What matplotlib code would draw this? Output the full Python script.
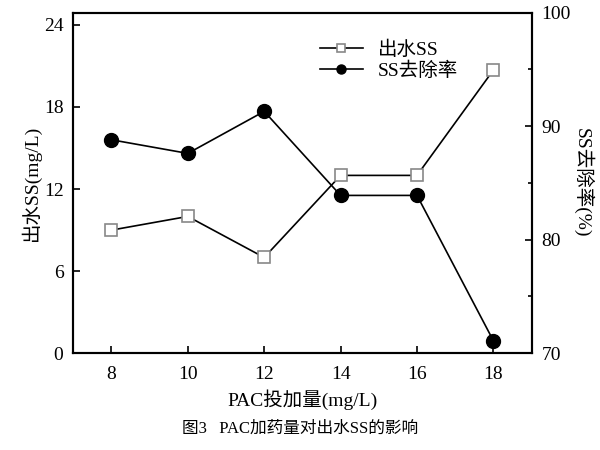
import matplotlib
matplotlib.use('Agg')
import matplotlib.pyplot as plt

plt.rcParams['font.family'] = ['Liberation Serif', 'Noto Sans CJK SC']

# 数据
dose = [8, 10, 12, 14, 16, 18]
ss_out = [9, 10, 7, 13, 13, 20.7]
ss_removal = [88.8, 87.6, 91.3, 83.9, 83.9, 71.1]

fig = plt.figure(figsize=(6, 4.5), dpi=100)
ax = fig.add_axes([0.122, 0.215, 0.764, 0.757])
ax2 = ax.twinx()

l1, = ax.plot(dose, ss_out, color='black', lw=1.2, marker='s', ms=9,
              mfc='white', mec='#888888', mew=1.2, label='出水SS')
l2, = ax2.plot(dose, ss_removal, color='black', lw=1.2, marker='o', ms=10,
               mfc='black', mec='black', label='SS去除率')

ax.set_xlim(7, 19)
ax.set_ylim(0, 24.9)
ax2.set_ylim(70, 100)
ax.set_xticks(dose)
ax.set_yticks([0, 6, 12, 18, 24])
ax2.set_yticks([70, 80, 90, 100])
ax2.set_yticks([75, 85, 95], minor=True)

for a in (ax, ax2):
    a.tick_params(direction='in', labelsize=14, length=5, width=1.2, pad=7)
    a.tick_params(which='minor', direction='in', length=3, width=1.2)
    for s in a.spines.values():
        s.set_linewidth(1.5)
ax.tick_params(axis='x', pad=9)

ax.set_ylabel('出水SS(mg/L)', fontsize=14, labelpad=2)
ax2.set_ylabel('SS去除率(%)', fontsize=14, rotation=270, labelpad=16)
ax.set_xlabel('PAC投加量(mg/L)', fontsize=14, labelpad=5)

ax.legend(handles=[l1, l2], loc='upper left', bbox_to_anchor=(0.5, 0.97),
          frameon=False, fontsize=14, handlelength=2.2, labelspacing=0.15,
          markerscale=0.65)

fig.text(0.5, 0.038, '图3   PAC加药量对出水SS的影响', ha='center', fontsize=12)

fig.savefig('out.png', dpi=100)
